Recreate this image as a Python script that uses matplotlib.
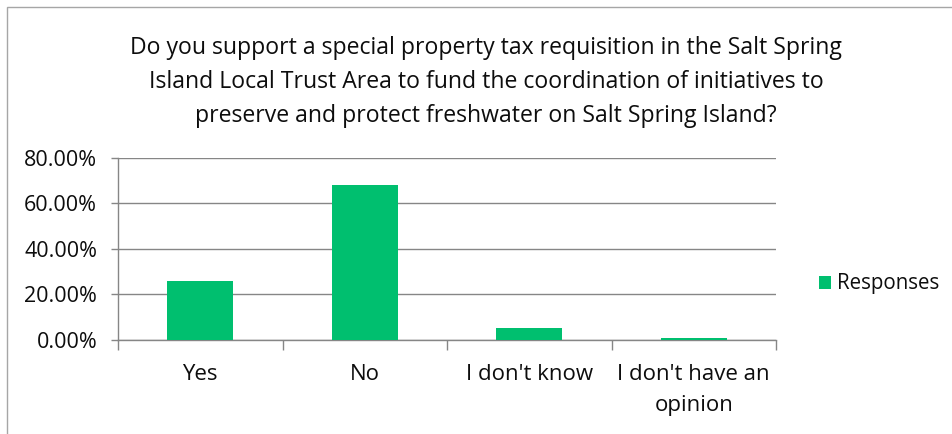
import matplotlib
matplotlib.use("Agg")
import matplotlib.pyplot as plt
from matplotlib.patches import Rectangle
from matplotlib.ticker import FixedLocator, NullFormatter

categories = ["Yes", "No", "I don't know", "I don't have an\nopinion"]
values = [25.6, 68.3, 5.2, 0.8]
yticks = [0, 20, 40, 60, 80]
ytick_labels = ["0.00%", "20.00%", "40.00%", "60.00%", "80.00%"]
series_name = "Responses"
title = ("Do you support a special property tax requisition in the Salt Spring\n"
         "Island Local Trust Area to fund the coordination of initiatives to\n"
         "preserve and protect freshwater on Salt Spring Island?")

plt.rcParams['font.family'] = ['Open Sans', 'DejaVu Sans']
W, H = 952, 434
fig = plt.figure(figsize=(W / 100, H / 100), dpi=100)
green = "#00BF6F"
grid_c = "#868686"
text_c = "#0d0d0d"

# outer chart frame
fig.patches.append(Rectangle((7 / W, -0.01), 1.05, 1 - 7 / H + 0.01, transform=fig.transFigure,
                             fill=False, edgecolor="#a6a6a6", linewidth=1.0))

ax = fig.add_axes([118 / W, 1 - 339.5 / H, (776 - 118) / W, (339.5 - 158) / H])
x = list(range(len(categories)))
ax.bar(x, values, width=0.4, color=green, label=series_name, zorder=3)
ax.set_xlim(-0.5, len(categories) - 0.5)
ax.set_ylim(0, 80)
ax.set_yticks(yticks)
ax.set_yticklabels(ytick_labels, fontsize=15.5, color=text_c)
ax.yaxis.grid(True, color=grid_c, linewidth=1.0, zorder=0)
ax.set_xticks(x)
ax.set_xticklabels(categories, fontsize=16, color=text_c, linespacing=1.6)
ax.tick_params(axis='x', length=0, pad=18)
ax.xaxis.set_minor_locator(FixedLocator([i - 0.5 for i in range(len(categories) + 1)]))
ax.xaxis.set_minor_formatter(NullFormatter())
ax.tick_params(axis='x', which='minor', length=7, color=grid_c, width=1.0, direction='out')
ax.tick_params(axis='y', length=5, color=grid_c, width=1.0, pad=10)
for s in ["top", "right"]:
    ax.spines[s].set_visible(False)
for s in ["left", "bottom"]:
    ax.spines[s].set_color(grid_c)
    ax.spines[s].set_linewidth(1.0)

fig.text(486 / W, 1 - 82 / H, title, ha='center', va='center', fontsize=16.6,
         color=text_c, linespacing=1.53)

leg = fig.legend(loc='center left', bbox_to_anchor=(800 / W, 1 - 284 / H), frameon=False,
                 fontsize=14.8, handlelength=0.6, handleheight=0.6, handletextpad=0.3,
                 labelcolor=text_c)

fig.savefig("out.png", dpi=100)
